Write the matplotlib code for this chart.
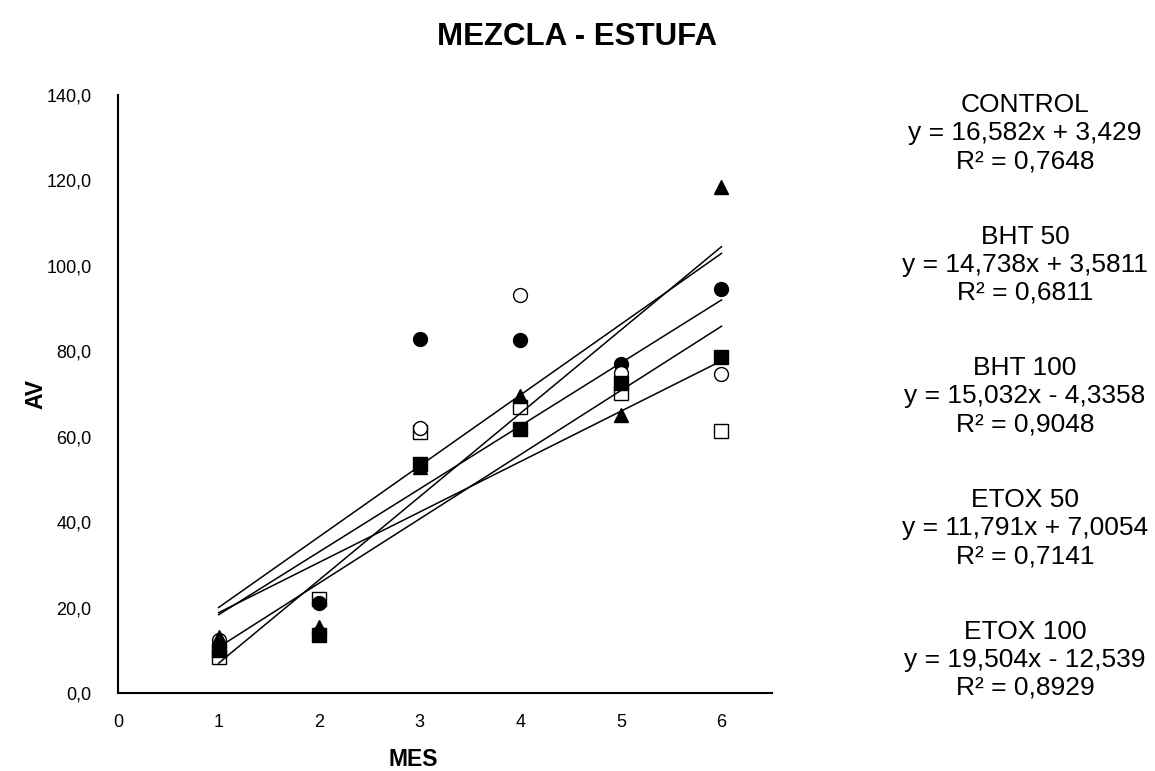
import matplotlib
matplotlib.use('Agg')
import matplotlib.pyplot as plt
import numpy as np

plt.rcParams['font.family'] = ['Liberation Sans', 'DejaVu Sans']

meses = [1, 2, 3, 4, 5, 6]

# series values
control = [11.0, 21.0, 82.8, 82.6, 77.0, 94.5]
bht50 = [12.5, 14.0, 62.0, 93.2, 74.9, 74.7]
bht100 = [10.0, 13.5, 53.6, 61.8, 72.6, 78.7]
etox50 = [8.5, 22.0, 61.1, 67.0, 70.2, 61.3]
etox100 = [13.0, 15.5, 53.0, 69.5, 65.0, 118.5]

nombres = ["CONTROL", "BHT 50", "BHT 100", "ETOX 50", "ETOX 100"]
pendientes = [16.582, 14.738, 15.032, 11.791, 19.504]
intercepts = [3.429, 3.5811, -4.3358, 7.0054, -12.539]
r2 = ["0,7648", "0,6811", "0,9048", "0,7141", "0,8929"]
ecuaciones = ["y = 16,582x + 3,429", "y = 14,738x + 3,5811",
              "y = 15,032x - 4,3358", "y = 11,791x + 7,0054",
              "y = 19,504x - 12,539"]

series = [control, bht50, bht100, etox50, etox100]
markers = ['o', 'o', 's', 's', '^']
faces = ['black', 'white', 'black', 'white', 'black']
orden = [2, 3, 4, 1, 5]

fig = plt.figure(figsize=(11.55, 7.71), dpi=100)
ax = fig.add_axes([0.1022, 0.1012, 0.566, 0.7756])

for vals, m, fc, z in zip(series, markers, faces, orden):
    ax.plot(meses, vals, linestyle='none', marker=m, markersize=10,
            markerfacecolor=fc, markeredgecolor='black', markeredgewidth=1.0,
            zorder=z)

xs = np.array([meses[0], meses[-1]])
for a, b in zip(pendientes, intercepts):
    ax.plot(xs, a * xs + b, color='black', linewidth=1.1, zorder=10)

ax.set_xlim(0, 6.5)
ax.set_ylim(0, 140)
ax.set_xticks(range(0, 7))
ax.set_yticks(range(0, 141, 20))
ax.set_yticklabels([f"{v},0" for v in range(0, 141, 20)])
ax.tick_params(axis='y', length=0, labelsize=13, pad=19)
ax.tick_params(axis='x', length=0, labelsize=13, pad=15)
for s in ['top', 'right']:
    ax.spines[s].set_visible(False)
for s in ['left', 'bottom']:
    ax.spines[s].set_linewidth(1.5)

ax.set_xlabel("MES", fontsize=16.5, fontweight='bold')
ax.set_ylabel("AV", fontsize=16.5, fontweight='bold')
ax.xaxis.set_label_coords(0.451, -0.092)
ax.yaxis.set_label_coords(-0.108, 0.5)
fig.text(0.5, 0.952, "MEZCLA - ESTUFA", ha='center', va='center',
         fontsize=22.5, fontweight='bold')

for i, nombre in enumerate(nombres):
    y0 = 105 + i * 131.7
    for j, t in enumerate([nombre, ecuaciones[i], "R² = " + r2[i]]):
        fig.text(1025 / 1155, 1 - (y0 + j * 28) / 771, t, ha='center',
                 va='center', fontsize=19)

plt.savefig("out.png", dpi=100)
plt.close()
